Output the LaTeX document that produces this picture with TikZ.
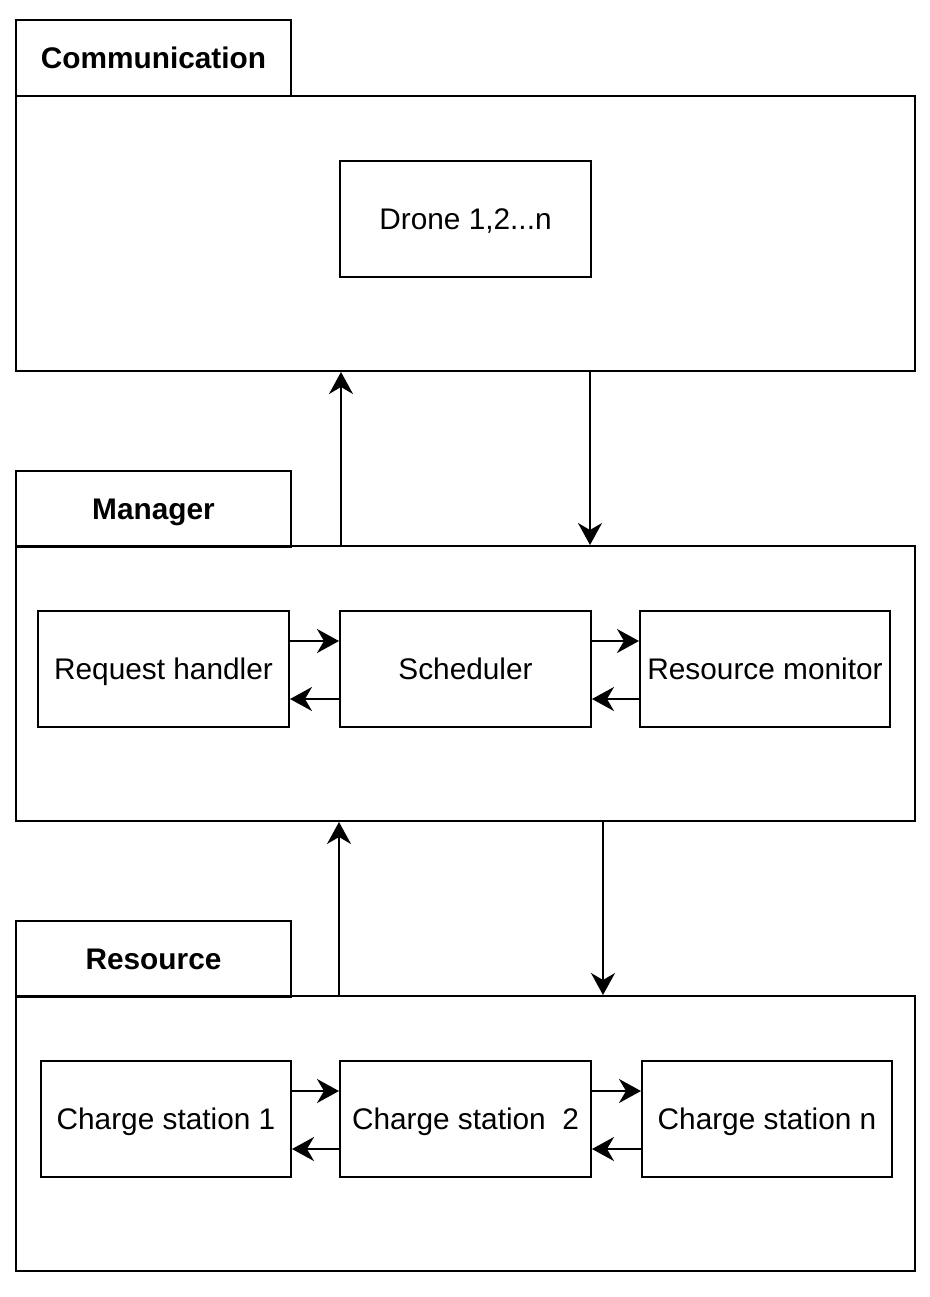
\documentclass[tikz,border=0pt]{standalone}
\usepackage{fontspec}
\setmainfont{Liberation Sans}
\usepackage{tikz}
\usetikzlibrary{arrows.meta, positioning}
\tikzstyle{box} = [draw, line width=1pt, rectangle, inner sep=0pt, anchor=north west, text height=10.7pt, text depth=0pt, font=\fontsize{14.9}{18}\selectfont]
\tikzstyle{tab} = [box, minimum width=137.5pt, minimum height=38pt, font=\fontsize{14.9}{18}\selectfont\bfseries]
\tikzstyle{frame} = [box, minimum width=449.5pt, minimum height=137.5pt]
\tikzstyle{unit} = [box, minimum width=125.5pt, minimum height=58pt]
\tikzstyle{arrow} = [line width=1pt, -{Stealth[length=11pt, width=12pt, inset=3.5pt]}]

\begin{document}
\begin{tikzpicture}[x=0.5pt, y=-0.5pt]
        \useasboundingbox (0,0) rectangle (930,1297);
        % communication layer
        \node[tab] (commtab) at (15,19) {Communication};
        \node[frame] (comm) at (15,95) {};
        \node[unit] (drone) at (339,160) {Drone 1,2...n};
        % manager layer
        \node[tab] (mgrtab) at (15,470) {Manager};
        \node[frame] (mgr) at (15,545) {};
        \node[unit] (req) at (37,610) {Request handler};
        \node[unit] (sched) at (339,610) {Scheduler};
        \node[unit, minimum width=125pt] (mon) at (639,610) {Resource monitor};
        % resource layer
        \node[tab] (restab) at (15,920) {Resource};
        \node[frame] (res) at (15,995) {};
        \node[unit, minimum width=125pt] (cs1) at (40,1060) {Charge station 1};
        \node[unit] (cs2) at (339,1060) {Charge station\ \ 2};
        \node[unit, minimum width=125pt] (csn) at (641,1060) {Charge station n};
        % between layers
        \coordinate (upA) at (341,0);
        \coordinate (downA) at (590,0);
        \coordinate (upB) at (339,0);
        \coordinate (downB) at (603,0);
        \draw[arrow] (mgr.north -| upA) -- (comm.south -| upA);
        \draw[arrow] (comm.south -| downA) -- (mgr.north -| downA);
        \draw[arrow] (res.north -| upB) -- (mgr.south -| upB);
        \draw[arrow] (mgr.south -| downB) -- (res.north -| downB);
        % inside layers
        \draw[arrow] ([yshift=14pt]req.east) -- ([yshift=14pt]sched.west);
        \draw[arrow] ([yshift=-15pt]sched.west) -- ([yshift=-15pt]req.east);
        \draw[arrow] ([yshift=14pt]sched.east) -- ([yshift=14pt]mon.west);
        \draw[arrow] ([yshift=-15pt]mon.west) -- ([yshift=-15pt]sched.east);
        \draw[arrow] ([yshift=14pt]cs1.east) -- ([yshift=14pt]cs2.west);
        \draw[arrow] ([yshift=-15pt]cs2.west) -- ([yshift=-15pt]cs1.east);
        \draw[arrow] ([yshift=14pt]cs2.east) -- ([yshift=14pt]csn.west);
        \draw[arrow] ([yshift=-15pt]csn.west) -- ([yshift=-15pt]cs2.east);
\end{tikzpicture}
\end{document}
